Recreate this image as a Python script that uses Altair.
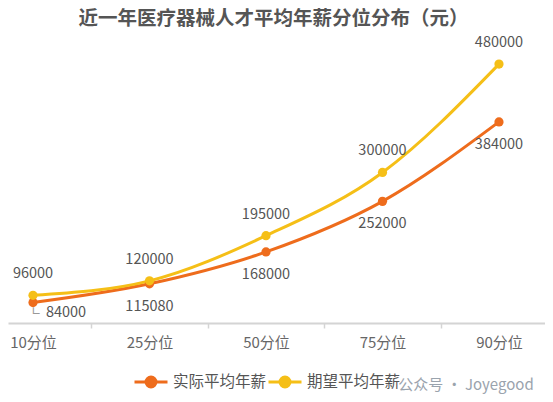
import altair as alt
import pandas as pd

categories = ["10分位", "25分位", "50分位", "75分位", "90分位"]
actual = [84000, 115080, 168000, 252000, 384000]
expected = [96000, 120000, 195000, 300000, 480000]
series_names = ["实际平均年薪", "期望平均年薪"]
series_colors = ["#EE6C1C", "#F5BF17"]
title_text = "近一年医疗器械人才平均年薪分位分布（元）"
watermark = "公众号 · Joyegood"

rows = []
for i, c in enumerate(categories):
    rows.append({"idx": i, "cat": c, "series": series_names[0], "value": actual[i]})
    rows.append({"idx": i, "cat": c, "series": series_names[1], "value": expected[i]})
df = pd.DataFrame(rows)

FONT = "Microsoft YaHei, Noto Sans CJK SC, sans-serif"
cat_js = "[" + ",".join(f"'{c}'" for c in categories) + "]"

x_scale = alt.Scale(domain=[-0.2146, 4.395], nice=False, zero=False)
y_scale = alt.Scale(domain=[50000, 520000], nice=False, zero=False)

x_axis = alt.Axis(
    values=[0, 0.5, 1, 1.5, 2, 2.5, 3, 3.5, 4],
    labelExpr=f"datum.value % 1 == 0 ? {cat_js}[datum.value] : ''",
    grid=False,
    title=None,
    domainColor="#d4d4d4",
    domainWidth=2,
    tickColor="#d4d4d4",
    tickWidth=1.5,
    tickSize=5,
    tickOpacity={"condition": {"test": "datum.value % 1 == 0", "value": 0}, "value": 1},
    labelFontSize=15,
    labelColor="#666666",
    labelFont=FONT,
    labelPadding=7,
    labelFlush=False,
)

legend = alt.Legend(
    title=None,
    orient="none",
    legendX=125,
    legendY=324,
    direction="horizontal",
    symbolType="M-1,0H1M0.3,0A0.3,0.3,0,1,1,-0.3,0A0.3,0.3,0,1,1,0.3,0Z",
    symbolSize=1089,
    symbolStrokeWidth=3,
    labelFontSize=15.5,
    labelColor="#555555",
    labelFont=FONT,
    labelOffset=4,
    columnPadding=-7,
    symbolOpacity=1,
)

base = alt.Chart(df).encode(
    x=alt.X("idx:Q", scale=x_scale, axis=x_axis),
    y=alt.Y("value:Q", scale=y_scale, axis=None),
)

color = alt.Color("series:N", scale=alt.Scale(domain=series_names, range=series_colors), legend=legend)

lines = base.mark_line(interpolate="monotone", strokeWidth=3).encode(color=color)
points = base.mark_point(filled=True, size=85, opacity=1).encode(color=color)

text_above = base.transform_filter(
    alt.datum.series == series_names[1]
).mark_text(dy=-21, fontSize=14.5, color="#555555", font=FONT).encode(
    text=alt.Text("value:Q", format="d")
)

text_below = base.transform_filter(
    (alt.datum.series == series_names[0]) & (alt.datum.idx > 0)
).mark_text(dy=23, fontSize=14.5, color="#555555", font=FONT).encode(
    text=alt.Text("value:Q", format="d")
)

text_first = base.transform_filter(
    (alt.datum.series == series_names[0]) & (alt.datum.idx == 0)
).mark_text(dx=33, dy=10, fontSize=14.5, color="#555555", font=FONT).encode(
    text=alt.Text("value:Q", format="d")
)

leader = base.transform_filter(
    (alt.datum.series == series_names[0]) & (alt.datum.idx == 0)
).mark_text(dx=3, dy=8, fontSize=12, color="#999999", font="DejaVu Sans").encode(
    text=alt.value("∟")
)

wm = alt.Chart(pd.DataFrame({"t": [watermark]})).mark_text(
    fontSize=15, color="#9aa3ad", font=FONT, align="center", baseline="middle"
).encode(
    text="t:N", x=alt.value(458), y=alt.value(345)
)

chart = alt.layer(lines, points, text_above, text_below, text_first, leader, wm).properties(
    width=537,
    height=283,
    autosize=alt.AutoSizeParams(type="none"),
    padding={"left": 0, "right": 0, "top": 32, "bottom": 72},
    title=alt.TitleParams(
        text=title_text, fontSize=19.5, fontWeight="bold", color="#555555",
        font=FONT, anchor="middle", dx=-3, offset=6,
    ),
).configure_view(stroke=None)

chart.save("out.html", embed_options={"renderer": "svg", "actions": False})
